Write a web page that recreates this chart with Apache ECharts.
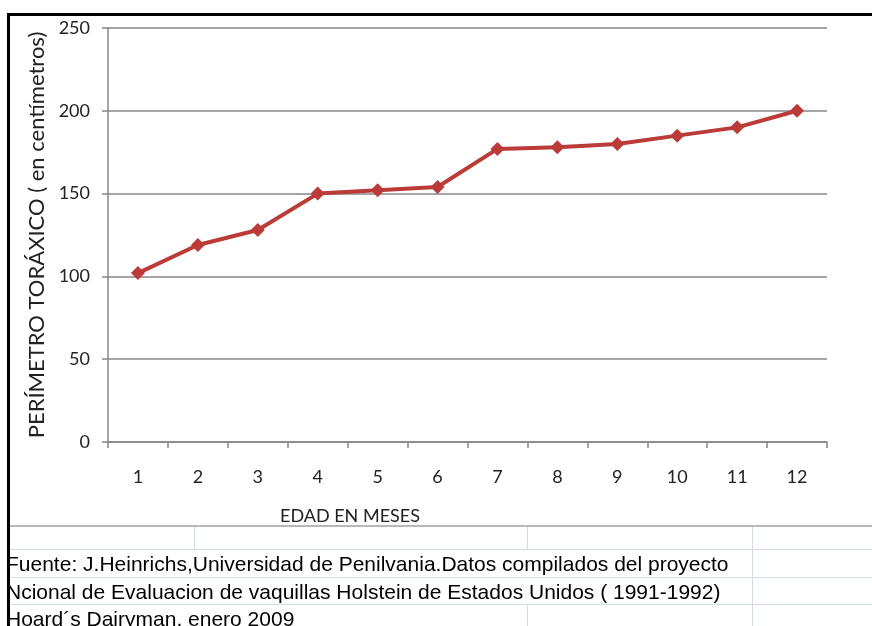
<!DOCTYPE html>
<html>
<head>
<meta charset="utf-8">
<script src="https://cdn.jsdelivr.net/npm/echarts@6/dist/echarts.min.js"></script>
<style>
  html, body { margin: 0; padding: 0; background: #fff; }
  #main { width: 872px; height: 626px; }
</style>
</head>
<body>
<div id="main"></div>
<script>
// meses de edad
var meses = ['1', '2', '3', '4', '5', '6', '7', '8', '9', '10', '11', '12'];
// perimetro toraxico en cm
var perimetro = [102, 119, 128, 150, 152, 154, 177, 178, 180, 185, 190, 200];
var yTicks = { min: 0, max: 250, interval: 50 };
var fuente = [
    'Fuente: J.Heinrichs,Universidad de Penilvania.Datos compilados del proyecto',
    'Ncional de Evaluacion de vaquillas Holstein de Estados Unidos ( 1991-1992)',
    'Hoard\u00b4s Dairyman, enero 2009'
];

var chartDom = document.getElementById('main');
var myChart = echarts.init(chartDom);
var option;

var gris = '#878787';
var celda = '#d4dbe8';

// lineas de la hoja de calculo debajo del grafico
var hoja = [
    { type: 'line', shape: { x1: 8, y1: 526, x2: 872, y2: 526 }, style: { stroke: '#a0a0a0', lineWidth: 1.5 } },
    { type: 'line', shape: { x1: 8, y1: 549.5, x2: 872, y2: 549.5 }, style: { stroke: celda, lineWidth: 1 } },
    { type: 'line', shape: { x1: 8, y1: 577.5, x2: 872, y2: 577.5 }, style: { stroke: celda, lineWidth: 1 } },
    { type: 'line', shape: { x1: 8, y1: 604.5, x2: 872, y2: 604.5 }, style: { stroke: celda, lineWidth: 1 } },
    { type: 'line', shape: { x1: 194.5, y1: 527, x2: 194.5, y2: 549 }, style: { stroke: celda, lineWidth: 1 } },
    { type: 'line', shape: { x1: 527.5, y1: 527, x2: 527.5, y2: 549 }, style: { stroke: celda, lineWidth: 1 } },
    { type: 'line', shape: { x1: 527.5, y1: 605, x2: 527.5, y2: 626 }, style: { stroke: celda, lineWidth: 1 } },
    { type: 'line', shape: { x1: 752.5, y1: 527, x2: 752.5, y2: 626 }, style: { stroke: celda, lineWidth: 1 } }
];

fuente.forEach(function (t, i) {
    hoja.push({
        type: 'text',
        left: 6,
        top: 555 + i * 27.5,
        style: { text: t, fill: '#000', font: '21px "Liberation Sans", Arial, sans-serif' }
    });
});

// marco negro
hoja.push({ type: 'rect', shape: { x: 7, y: 13, width: 866, height: 3 }, style: { fill: '#000' }, z: 100 });
hoja.push({ type: 'rect', shape: { x: 7, y: 13, width: 3, height: 614 }, style: { fill: '#000' }, z: 100 });

hoja.push({
    type: 'text',
    left: 280,
    top: 507,
    style: { text: 'EDAD EN MESES', fill: '#222', font: '18px Lato, sans-serif' }
});

option = {
    backgroundColor: '#fff',
    animation: false,
    grid: {
        left: 108,
        right: 45,
        top: 28,
        bottom: 184
    },
    xAxis: {
        type: 'category',
        data: meses,
        boundaryGap: true,
        axisLine: { lineStyle: { color: gris, width: 1.5 } },
        axisTick: { show: true, interval: 0, length: 6, lineStyle: { color: gris, width: 1.5 } },
        axisLabel: { color: '#222', fontFamily: 'Lato', fontSize: 18, margin: 26 },
        splitLine: { show: false }
    },
    yAxis: {
        type: 'value',
        min: yTicks.min,
        max: yTicks.max,
        interval: yTicks.interval,
        name: 'PER\u00cdMETRO TOR\u00c1XICO ( en cent\u00edmetros)',
        nameLocation: 'middle',
        nameRotate: 90,
        nameGap: 56,
        nameTextStyle: { color: '#222', fontFamily: 'Lato', fontSize: 22 },
        axisLine: { show: true, lineStyle: { color: gris, width: 1.5 } },
        axisTick: { show: true, length: 6, lineStyle: { color: gris, width: 1.5 } },
        axisLabel: { color: '#222', fontFamily: 'Lato', fontSize: 18, margin: 18 },
        splitLine: { show: true, lineStyle: { color: gris, width: 1.5 } }
    },
    series: [
        {
            type: 'line',
            data: perimetro,
            symbol: 'diamond',
            symbolSize: 14,
            lineStyle: { color: '#bb3b38', width: 4 },
            itemStyle: { color: '#bb3b38' }
        }
    ],
    graphic: hoja
};

option && myChart.setOption(option);
</script>
</body>
</html>
